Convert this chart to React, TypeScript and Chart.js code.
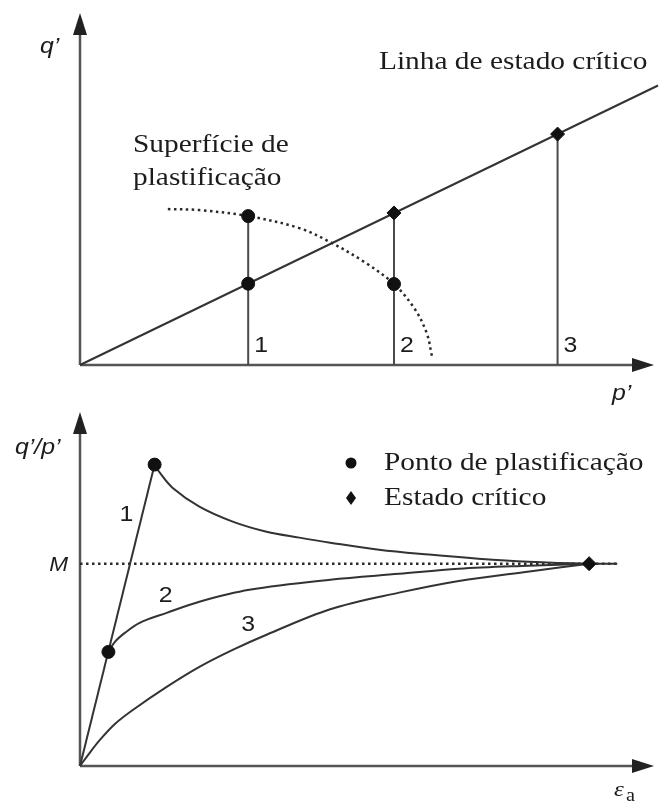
import React, { useEffect, useRef } from "react";
import { Chart, registerables } from "chart.js";

Chart.register(...registerables);

// ---------- Upper diagram: stress plane p'–q' (arbitrary units) ----------
const cslP = [0, 100.7];
const cslQ = [0, 79.4];
const yieldSurfaceP = [15.3, 20.8, 29.3, 38.2, 43.6, 49.5, 54.7, 58.2, 60.4, 61.3];
const yieldSurfaceQ = [44.3, 44.0, 42.3, 38.9, 34.9, 29.3, 23.0, 16.2, 9.1, 2.6];
const pathNames = ["1", "2", "3"];
const pathP = [29.3, 54.7, 83.2];
const pathEndQ = [42.3, 43.2, 65.6];
const yieldPointP = [29.3, 29.3, 54.7];
const yieldPointQ = [42.3, 23.1, 23.0];
const criticalPointP = [54.7, 83.2];
const criticalPointQ = [43.2, 65.6];

// ---------- Lower diagram: stress ratio q'/p' against axial strain ----------
const M = 1;
const strainEnd = 93.6;
const curve1RiseStrain = [0, 13.0];
const curve1RiseRatio = [0, 1.49];
const curve1Strain = [13.0, 13.9, 16.1, 20.8, 26.6, 32.5, 38.2, 43.6, 52.1, 60.8, 69.4, 78.1, 88.7, 93.6];
const curve1Ratio = [1.49, 1.45, 1.376, 1.282, 1.208, 1.158, 1.129, 1.104, 1.069, 1.045, 1.025, 1.01, 1.0, 1.0];
const curve2Strain = [4.95, 6.08, 7.81, 10.4, 15.1, 20.8, 29.5, 43.6, 55.6, 66.0, 78.1, 88.7];
const curve2Ratio = [0.564, 0.614, 0.658, 0.708, 0.757, 0.812, 0.871, 0.921, 0.95, 0.975, 0.99, 1.0];
const curve3Strain = [0, 1.39, 3.47, 6.08, 9.2, 15.1, 20.8, 26.6, 32.5, 43.6, 55.6, 66.0, 78.3, 88.7];
const curve3Ratio = [0, 0.054, 0.129, 0.208, 0.277, 0.391, 0.49, 0.574, 0.649, 0.775, 0.857, 0.915, 0.962, 1.0];
const curveNames = ["1", "2", "3"];
const yieldStrain = [13.0, 4.95];
const yieldRatio = [1.49, 0.564];
const criticalStrain = [88.7];
const criticalRatio = [1.0];
const legendLabels = ["Ponto de plastificação", "Estado crítico"];

// ---------- styling ----------
const INK = "#1c1c1c";
const LINE = "#333333";
const AXIS = "#555555";
const SERIF = "'Liberation Serif', 'Times New Roman', serif";
const SANS = "'Liberation Sans', Arial, sans-serif";
const STRETCH = 1.13;

const pts = (xs: number[], ys: number[]) => xs.map((x, i) => ({ x, y: ys[i] }));

function label(
  ctx: CanvasRenderingContext2D,
  s: string,
  x: number,
  y: number,
  font: string,
  align: CanvasTextAlign = "left"
) {
  ctx.save();
  ctx.translate(x, y);
  ctx.scale(STRETCH, 1);
  ctx.font = font;
  ctx.fillStyle = INK;
  ctx.textAlign = align;
  ctx.textBaseline = "alphabetic";
  ctx.fillText(s, 0, 0);
  ctx.restore();
}

function drawAxes(chart: any) {
  const { ctx, chartArea: a, scales } = chart;
  const x0 = scales.x.getPixelForValue(0);
  const y0 = scales.y.getPixelForValue(0);
  ctx.save();
  ctx.strokeStyle = AXIS;
  ctx.fillStyle = "#222";
  ctx.lineWidth = 2.5;
  ctx.beginPath();
  ctx.moveTo(x0, y0);
  ctx.lineTo(x0, a.top + 16);
  ctx.moveTo(x0, y0);
  ctx.lineTo(a.right - 16, y0);
  ctx.stroke();
  ctx.beginPath();
  ctx.moveTo(x0, a.top);
  ctx.lineTo(x0 - 7, a.top + 22);
  ctx.lineTo(x0 + 7, a.top + 22);
  ctx.closePath();
  ctx.fill();
  ctx.beginPath();
  ctx.moveTo(a.right, y0);
  ctx.lineTo(a.right - 22, y0 - 7);
  ctx.lineTo(a.right - 22, y0 + 7);
  ctx.closePath();
  ctx.fill();
  ctx.restore();
}

const lineSet = (data: any[], extra: any = {}) => ({
  data,
  showLine: true,
  pointRadius: 0,
  borderColor: LINE,
  borderWidth: 2,
  fill: false,
  tension: 0,
  clip: false,
  ...extra,
});

const markerSet = (data: any[], style: string, radius: number) => ({
  data,
  showLine: false,
  pointStyle: style,
  pointRadius: radius,
  backgroundColor: "#111",
  borderColor: "#111",
  borderWidth: 1,
  clip: false,
});

const baseOptions = (padding: any, yMax: number) => ({
  responsive: false,
  animation: false as const,
  events: [] as any[],
  layout: { padding },
  scales: {
    x: { type: "linear" as const, min: 0, max: 100, display: false },
    y: { type: "linear" as const, min: 0, max: yMax, display: false },
  },
  plugins: { legend: { display: false }, tooltip: { enabled: false } },
});

const stressPlanePlugin = {
  id: "stressPlaneDecor",
  beforeDatasetsDraw(chart: any) {
    drawAxes(chart);
  },
  afterDraw(chart: any) {
    const { ctx, scales } = chart;
    const y0 = scales.y.getPixelForValue(0);
    label(ctx, "q’", 40, 53, `italic 22px ${SANS}`);
    label(ctx, "p’", 612, 400, `italic 22px ${SANS}`);
    label(ctx, "Linha de estado crítico", 379, 69, `26px ${SERIF}`);
    label(ctx, "Superfície de", 133, 152, `26px ${SERIF}`);
    label(ctx, "plastificação", 133, 185, `26px ${SERIF}`);
    pathNames.forEach((n, i) => {
      label(ctx, n, scales.x.getPixelForValue(pathP[i]) + 6, y0 - 13, `22px ${SANS}`);
    });
  },
};

// anchors (in data units) for the curve numbers of the lower diagram
const curveNameAnchors = [
  { x: 6.9, y: 1.21 },
  { x: 13.7, y: 0.81 },
  { x: 28.1, y: 0.668 },
];

const strainPlugin = {
  id: "strainDecor",
  beforeDatasetsDraw(chart: any) {
    drawAxes(chart);
  },
  afterDraw(chart: any) {
    const { ctx, scales } = chart;
    const yM = scales.y.getPixelForValue(M);
    label(ctx, "q’/p’", 15, 59, `italic 22px ${SANS}`);
    label(ctx, "M", 68, yM + 7, `italic 20px ${SANS}`, "right");
    curveNames.forEach((n, i) => {
      const a = curveNameAnchors[i];
      label(ctx, n, scales.x.getPixelForValue(a.x), scales.y.getPixelForValue(a.y), `22px ${SANS}`);
    });
    // legend
    ctx.save();
    ctx.fillStyle = "#111";
    ctx.beginPath();
    ctx.arc(351, 68, 5.5, 0, Math.PI * 2);
    ctx.fill();
    ctx.beginPath();
    ctx.moveTo(351, 96);
    ctx.lineTo(356, 103);
    ctx.lineTo(351, 110);
    ctx.lineTo(346, 103);
    ctx.closePath();
    ctx.fill();
    ctx.restore();
    label(ctx, legendLabels[0], 384, 75, `26px ${SERIF}`);
    label(ctx, legendLabels[1], 384, 110, `26px ${SERIF}`);
    // axis title ε_a
    label(ctx, "ε", 614, 401, `italic 22px ${SERIF}`);
    label(ctx, "a", 626, 406, `18px ${SERIF}`);
  },
};

export default function App() {
  const topRef = useRef<HTMLCanvasElement>(null);
  const bottomRef = useRef<HTMLCanvasElement>(null);

  useEffect(() => {
    const dotted = { borderDash: [2.5, 3.5], borderWidth: 2.5, borderColor: "#2a2a2a" };
    const smooth = { tension: 0.35 };

    const top = new Chart(topRef.current as HTMLCanvasElement, {
      type: "scatter",
      data: {
        datasets: [
          markerSet(pts(yieldPointP, yieldPointQ), "circle", 6.5),
          markerSet(pts(criticalPointP, criticalPointQ), "rectRot", 7),
          ...pathP.map((p, i) =>
            lineSet(
              [
                { x: p, y: 0 },
                { x: p, y: pathEndQ[i] },
              ],
              { borderColor: "#4a4a4a" }
            )
          ),
          lineSet(pts(yieldSurfaceP, yieldSurfaceQ), { ...dotted, ...smooth }),
          lineSet(pts(cslP, cslQ)),
        ] as any,
      },
      options: baseOptions({ left: 80, right: 6, top: 13, bottom: 45 }, 100) as any,
      plugins: [stressPlanePlugin],
    });

    const bottom = new Chart(bottomRef.current as HTMLCanvasElement, {
      type: "scatter",
      data: {
        datasets: [
          markerSet(pts(yieldStrain, yieldRatio), "circle", 6.5),
          markerSet(pts(criticalStrain, criticalRatio), "rectRot", 7),
          lineSet(pts(curve1RiseStrain, curve1RiseRatio)),
          lineSet(pts(curve1Strain, curve1Ratio), smooth),
          lineSet(pts(curve2Strain, curve2Ratio), smooth),
          lineSet(pts(curve3Strain, curve3Ratio), smooth),
          lineSet(
            [
              { x: 0, y: M },
              { x: strainEnd, y: M },
            ],
            dotted
          ),
        ] as any,
      },
      options: baseOptions({ left: 80, right: 6, top: 17, bottom: 38 }, 1.75) as any,
      plugins: [strainPlugin],
    });

    return () => {
      top.destroy();
      bottom.destroy();
    };
  }, []);

  return (
    <div
      style={{
        position: "absolute",
        left: 0,
        top: 0,
        width: 662,
        height: 804,
        background: "#fff",
      }}
    >
      <canvas
        ref={topRef}
        width={662}
        height={410}
        style={{ display: "block", position: "absolute", left: 0, top: 0 }}
      />
      <canvas
        ref={bottomRef}
        width={662}
        height={409}
        style={{ display: "block", position: "absolute", left: 0, top: 395 }}
      />
    </div>
  );
}
